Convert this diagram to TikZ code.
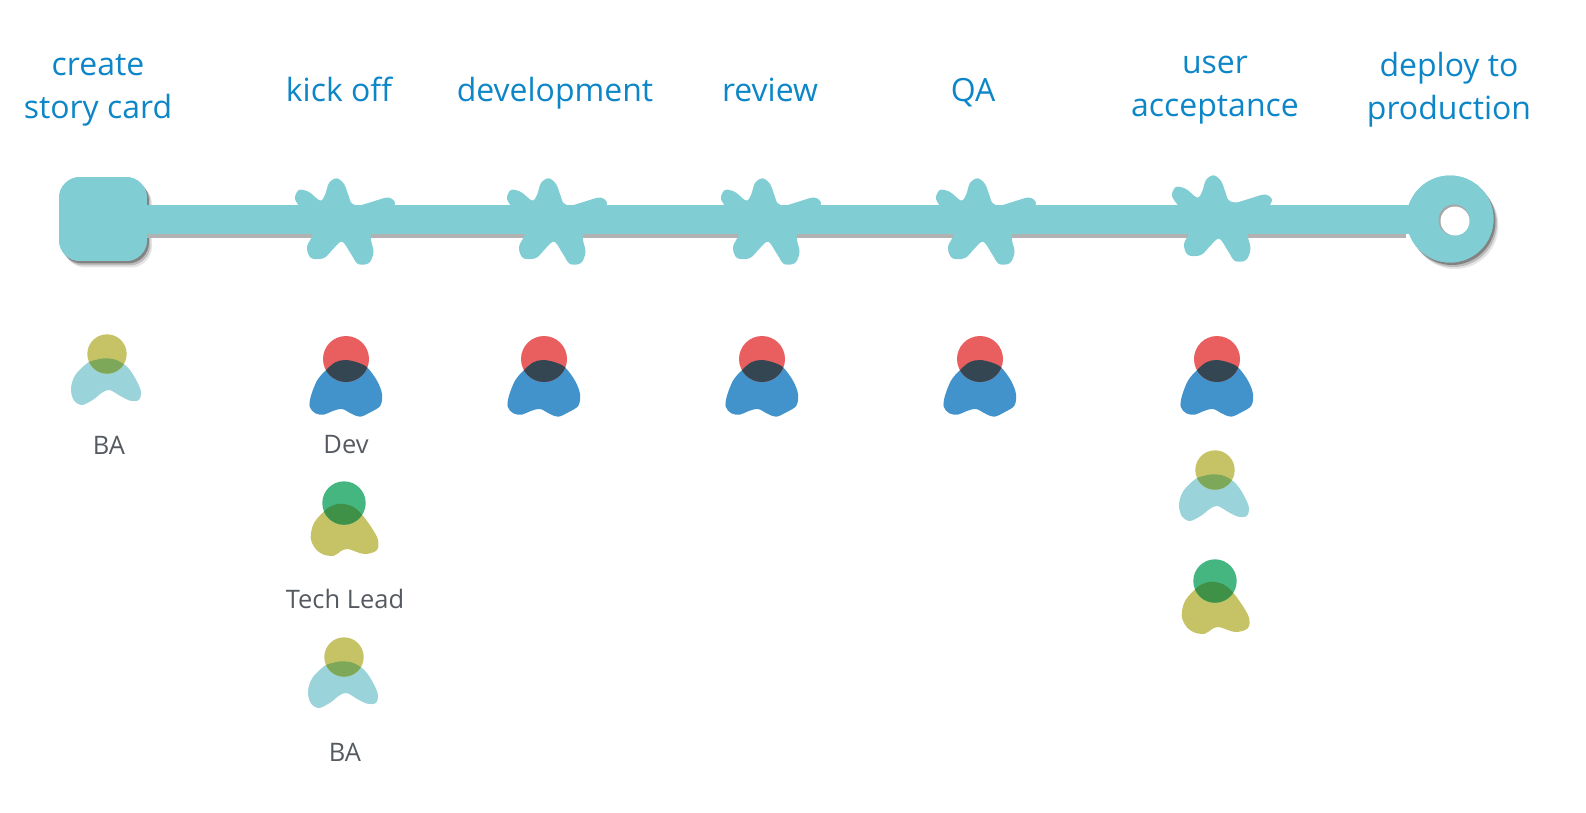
\documentclass[tikz,border=0pt]{standalone}
\usepackage{fontspec}
\setmainfont{Open Sans}
\usepackage{xcolor}
\usetikzlibrary{
    shadows
}
\definecolor{trackcol}{HTML}{80CED4}
\definecolor{stagecol}{HTML}{0D86C8}
\definecolor{rolecol}{HTML}{555A60}
\definecolor{redcol}{HTML}{E95F60}
\definecolor{bluecol}{HTML}{4293CB}
\definecolor{darkcol}{HTML}{334651}
\definecolor{greencol}{HTML}{45B680}
\definecolor{olivecol}{HTML}{C5C366}
\definecolor{forestcol}{HTML}{3F9148}
\definecolor{palecol}{HTML}{9AD4DA}
\definecolor{mosscol}{HTML}{7DA85A}
\newcommand{\devbody}{plot[smooth cycle, tension=0.55] coordinates {(-0.7,-1) (11,-3.3) (21,-8.3) (31,-21.7) (36,-35) (34.3,-46.7) (24.3,-53.3) (14.3,-57.7) (6,-55) (-4,-50) (-14,-52.3) (-22.3,-55.7) (-30.7,-54.3) (-36.3,-47.7) (-35,-36.7) (-29,-21.7) (-20.7,-11.7) (-10.7,-3.3)}}
\newcommand{\leadbody}{plot[smooth cycle, tension=0.55] coordinates {(-2.7,-0.7) (8.3,-3.3) (16.7,-10) (26.7,-23.3) (34,-36.7) (32.7,-47.3) (20,-51) (4,-46) (-3.3,-48.3) (-10,-52.7) (-20,-51.7) (-28.3,-46) (-33.3,-35) (-30,-20) (-18.3,-6.7) (-10,-2)}}
\newcommand{\babody}{plot[smooth cycle, tension=0.55] coordinates {(-1.7,-4.3) (9.3,-6) (20,-12.7) (28.3,-24.3) (34,-37.7) (31.7,-46) (23.3,-46.7) (13.3,-42) (2.7,-36) (-5,-38.7) (-13.3,-45.3) (-25,-51) (-33.3,-46) (-36,-34.3) (-31.7,-21) (-20,-9.3) (-11.7,-6)}}
\tikzset{
    x=0.02cm, y=0.02cm,
    softshadow/.style={
        general shadow={fill=black, opacity=0.1, shadow xshift=0.1cm, shadow yshift=-0.13cm},
        general shadow={fill=black, opacity=0.18, shadow xshift=0.07cm, shadow yshift=-0.09cm},
        general shadow={fill=black, opacity=0.3, shadow xshift=0.04cm, shadow yshift=-0.05cm}
    },
    stagelabel/.style={align=center, text=stagecol, inner sep=0cm, font=\fontsize{18.2}{24.4}\selectfont, execute at begin node=\strut, execute at end node=\strut},
    rolelabel/.style={text=rolecol, inner sep=0cm, font=\fontsize{14.5}{17}\selectfont},
    startface/.style={fill=trackcol, rectangle, rounded corners=0.42cm, minimum width=1.76cm, minimum height=1.68cm, inner sep=0cm},
    finishface/.style={fill=trackcol, circle, minimum size=1.74cm, inner sep=0cm},
    track/.style={trackcol, line width=0.58cm, shorten <=-0.4cm, shorten >=-0.4cm},
    pics/milestone/.style={code={
        \fill[trackcol] plot[smooth cycle, tension=0.55] coordinates {(-8.3,41.7) (-1,36) (3,26) (6.5,17) (14,14.5) (28,18.5) (43,22.5) (50,17) (44,7) (33,-1) (26,-8) (26,-20) (28.5,-32) (24,-43) (13,-44) (6,-34) (-2.7,-21.7) (-11,-28) (-21,-38) (-34,-38) (-38,-27) (-32,-14) (-33.5,-3) (-42,9) (-50,21) (-46,30) (-36,28) (-25,19.5) (-20,25) (-16,37)};
    }},
    pics/devrole/.style={code={
        \fill[bluecol] \devbody;
        \fill[redcol] (0,0) circle [radius=23];
        \begin{scope}
            \clip \devbody;
            \fill[darkcol] (0,0) circle [radius=23];
        \end{scope}
    }},
    pics/leadrole/.style={code={
        \fill[olivecol] \leadbody;
        \fill[greencol] (0,0) circle [radius=21.7];
        \begin{scope}
            \clip \leadbody;
            \fill[forestcol] (0,0) circle [radius=21.7];
        \end{scope}
    }},
    pics/barole/.style={code={
        \fill[palecol] \babody;
        \fill[olivecol] (0,0) circle [radius=19.7];
        \begin{scope}
            \clip \babody;
            \fill[mosscol] (0,0) circle [radius=19.7];
        \end{scope}
    }}
}

\begin{document}
\begin{tikzpicture}
    \useasboundingbox (0, 0) rectangle (1586, -812);

    \node[stagelabel] (create) at (98, -92.5) {create\\story card};
    \node[stagelabel] (kick) at (339, -92.5) {kick off};
    \node[stagelabel] (development) at (555, -92.5) {development};
    \node[stagelabel] (review) at (770, -92.5) {review};
    \node[stagelabel] (qa) at (973, -92.5) {QA};
    \node[stagelabel] (user) at (1215, -92.5) {user\\acceptance};
    \node[stagelabel] (deploy) at (1449, -92.5) {deploy to\\production};

    \node[softshadow, startface] (start shadow) at (103, -219) {};
    \node[softshadow, finishface] (finish shadow) at (1450, -219) {};

    \draw[black!30, line width=0.58cm] ([yshift=-0.08cm]start shadow.east)--([yshift=-0.08cm]finish shadow.west);
    \draw[track] (start shadow)--(finish shadow);

    \node[startface] (start) at (103, -219) {};
    \node[finishface] (finish) at (1450, -219) {};
    \node[fill=gray!70, circle, minimum size=0.62cm, inner sep=0cm] (hole) at (1454, -220) {};
    \node[fill=white, circle, minimum size=0.58cm, inner sep=0cm] (hole inner) at (1455, -221) {};

    \pic at (345, -220) {milestone};
    \pic at (557, -220) {milestone};
    \pic at (771, -220) {milestone};
    \pic at (986, -220) {milestone};
    \pic at (1222, -217) {milestone};

    \pic at (107, -354) {barole};
    \pic at (346, -359) {devrole};
    \pic at (544, -359) {devrole};
    \pic at (762, -359) {devrole};
    \pic at (980, -359) {devrole};
    \pic at (1217, -359) {devrole};
    \pic at (344, -503) {leadrole};
    \pic at (344, -657) {barole};
    \pic at (1215, -470) {barole};
    \pic at (1215, -581) {leadrole};

    \node[rolelabel] (ba left) at (109, -445) {BA};
    \node[rolelabel] (dev) at (346, -445) {Dev};
    \node[rolelabel] (tech) at (345, -599) {Tech Lead};
    \node[rolelabel] (ba mid) at (345, -752) {BA};
\end{tikzpicture}
\end{document}
